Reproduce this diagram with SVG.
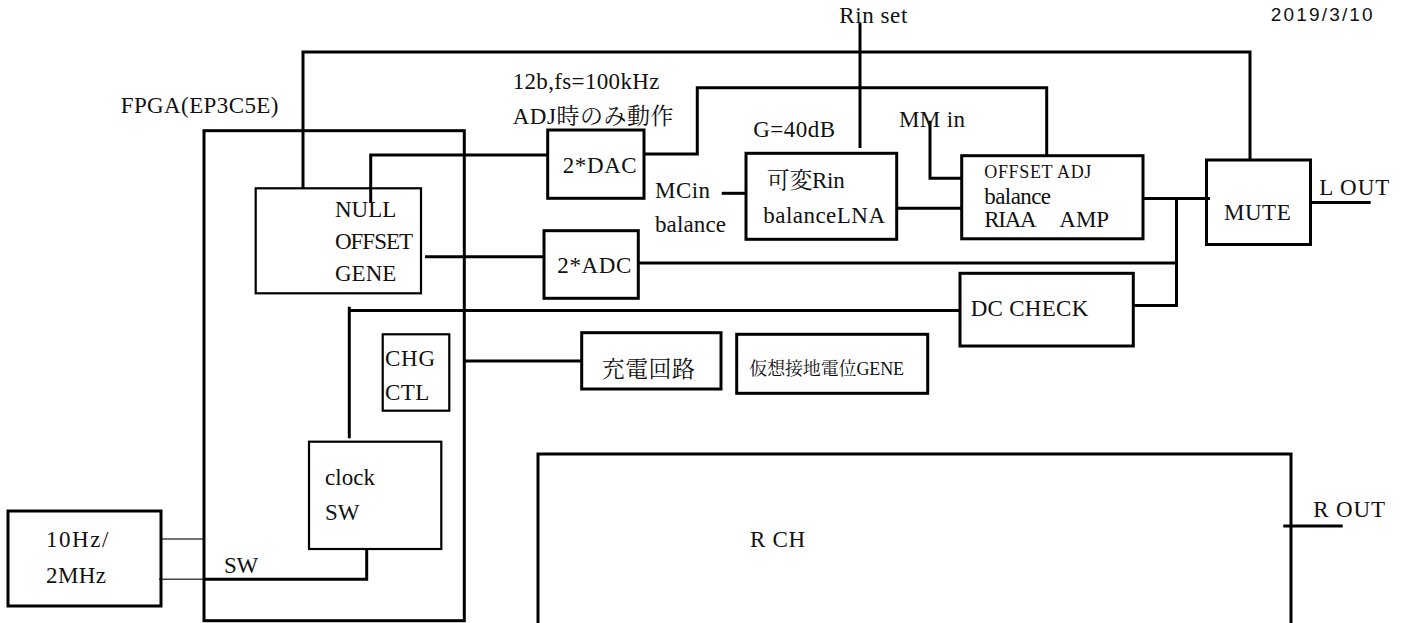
<svg xmlns="http://www.w3.org/2000/svg" width="1404" height="623" viewBox="0 0 1404 623">
<style>
.b{fill:none;stroke:#000;stroke-width:3}
.bt{fill:none;stroke:#000;stroke-width:2.2}
.w{fill:none;stroke:#000;stroke-width:3}
.wt{fill:none;stroke:#444;stroke-width:1.5}
text{font-family:"Liberation Serif","Noto Serif CJK JP","Noto Sans CJK JP",serif;font-size:23px;fill:#111}
.s{font-size:18px}
.c{font-size:18px}
.d{font-family:"Liberation Sans","Noto Sans CJK JP",sans-serif;font-size:19px}
</style>
<rect width="1404" height="623" fill="#fff"/>
<g id="connectors">
<path class="w" d="M303 188 V52 H1250 V160"/>
<path class="w" d="M370.7 203 V155 H547.7"/>
<path class="w" d="M644 154 H697.3 V87.7 H1046.7 V155.7"/>
<path class="w" d="M860 23 V148"/>
<path class="w" d="M721.7 193.3 H746"/>
<path class="w" d="M930 120.7 V178.3 H961.7"/>
<path class="w" d="M896.7 208.3 H961.7"/>
<path class="w" d="M1143 198.5 H1210"/>
<path class="w" d="M1176.5 198.5 V305.5 H1133.3"/>
<path class="w" d="M638.3 263 H1178"/>
<path class="w" d="M425 256.7 H544"/>
<path class="w" d="M960 310.5 H349.3"/>
<path class="w" d="M349.3 306.7 V438.3"/>
<path class="w" d="M1311 202.5 H1370.7"/>
<path class="w" d="M464.3 361 H581.7"/>
<path class="wt" d="M161 539 H203"/>
<path class="wt" d="M159 579.3 H203"/>
<path class="w" d="M203 579.3 H366.7 V549"/>
<path class="w" d="M1283.3 526 H1342.7"/>
</g>
<g id="fpga">
<rect class="b" x="204" y="130.7" width="260.3" height="490"/>
<text x="120.7" y="113.3" textLength="157.7">FPGA(EP3C5E)</text>
</g>
<g id="null-offset-gene">
<rect class="bt" x="255.7" y="188.3" width="165.3" height="105"/>
<text x="335" y="217">NULL</text>
<text x="335" y="249" textLength="78">OFFSET</text>
<text x="335" y="281">GENE</text>
</g>
<g id="dac">
<rect class="b" x="547.7" y="130" width="96.3" height="68.3"/>
<text x="562.7" y="172.7" textLength="74">2*DAC</text>
<text x="512.7" y="89" textLength="146.7">12b,fs=100kHz</text>
<text x="512.7" y="123.5" textLength="160.7">ADJ時のみ動作</text>
</g>
<g id="adc">
<rect class="b" x="544" y="230.7" width="94.3" height="67.6"/>
<text x="557.3" y="273.3" textLength="74">2*ADC</text>
</g>
<g id="lna">
<rect class="b" x="746" y="153.3" width="150.7" height="86"/>
<text x="766.7" y="188" textLength="78">可変Rin</text>
<text x="763.3" y="222.7" textLength="121.7">balanceLNA</text>
<text x="753.3" y="136.7" textLength="81.7">G=40dB</text>
<text x="839.3" y="22.7" textLength="68">Rin set</text>
<text x="655" y="198.3" textLength="55">MCin</text>
<text x="655" y="231.7" textLength="71">balance</text>
</g>
<g id="riaa">
<rect class="b" x="961.7" y="155.7" width="181.3" height="83.1"/>
<text class="s" x="984.3" y="177.7" textLength="107">OFFSET ADJ</text>
<text x="984.3" y="204" textLength="66.7">balance</text>
<text x="984.3" y="227.3" textLength="52.4">RIAA</text>
<text x="1059.3" y="227.3">AMP</text>
<text x="899" y="127" textLength="66">MM in</text>
</g>
<g id="mute">
<rect class="b" x="1206.5" y="160" width="104" height="84.5"/>
<text x="1224" y="220" textLength="66.7">MUTE</text>
<text x="1319.3" y="195" textLength="70">L OUT</text>
</g>
<g id="dc-check">
<rect class="b" x="960" y="273.3" width="173.3" height="72.7"/>
<text x="970.7" y="316" textLength="117.6">DC CHECK</text>
</g>
<g id="chg-ctl">
<rect class="bt" x="382.7" y="334.3" width="66.6" height="76.4"/>
<text x="385" y="366" textLength="50">CHG</text>
<text x="385" y="400" textLength="44.3">CTL</text>
</g>
<g id="charger">
<rect class="b" x="581.7" y="332.7" width="139.3" height="56.3"/>
<text x="601.7" y="376.5" textLength="93.3">充電回路</text>
</g>
<g id="vgnd">
<rect class="b" x="736.7" y="334.3" width="191" height="59"/>
<text class="c" x="749.3" y="375" textLength="154.7">仮想接地電位GENE</text>
</g>
<g id="clock-sw">
<rect class="bt" x="309" y="441.7" width="132.3" height="107.3"/>
<text x="325" y="485" textLength="50">clock</text>
<text x="325" y="520">SW</text>
<text x="224" y="572.7" textLength="34.3">SW</text>
</g>
<g id="osc">
<rect class="b" x="8" y="511" width="153" height="95"/>
<text x="46" y="547.3" textLength="62.3">10Hz/</text>
<text x="46" y="582.7" textLength="60">2MHz</text>
</g>
<g id="rch">
<path class="b" d="M538 640 V454 H1291 V640"/>
<text x="750" y="546.7" textLength="55">R CH</text>
<text x="1313.3" y="517.3" textLength="71.7">R OUT</text>
</g>
<g id="date">
<text class="d" x="1270.7" y="20.7" textLength="102">2019/3/10</text>
</g>
</svg>
